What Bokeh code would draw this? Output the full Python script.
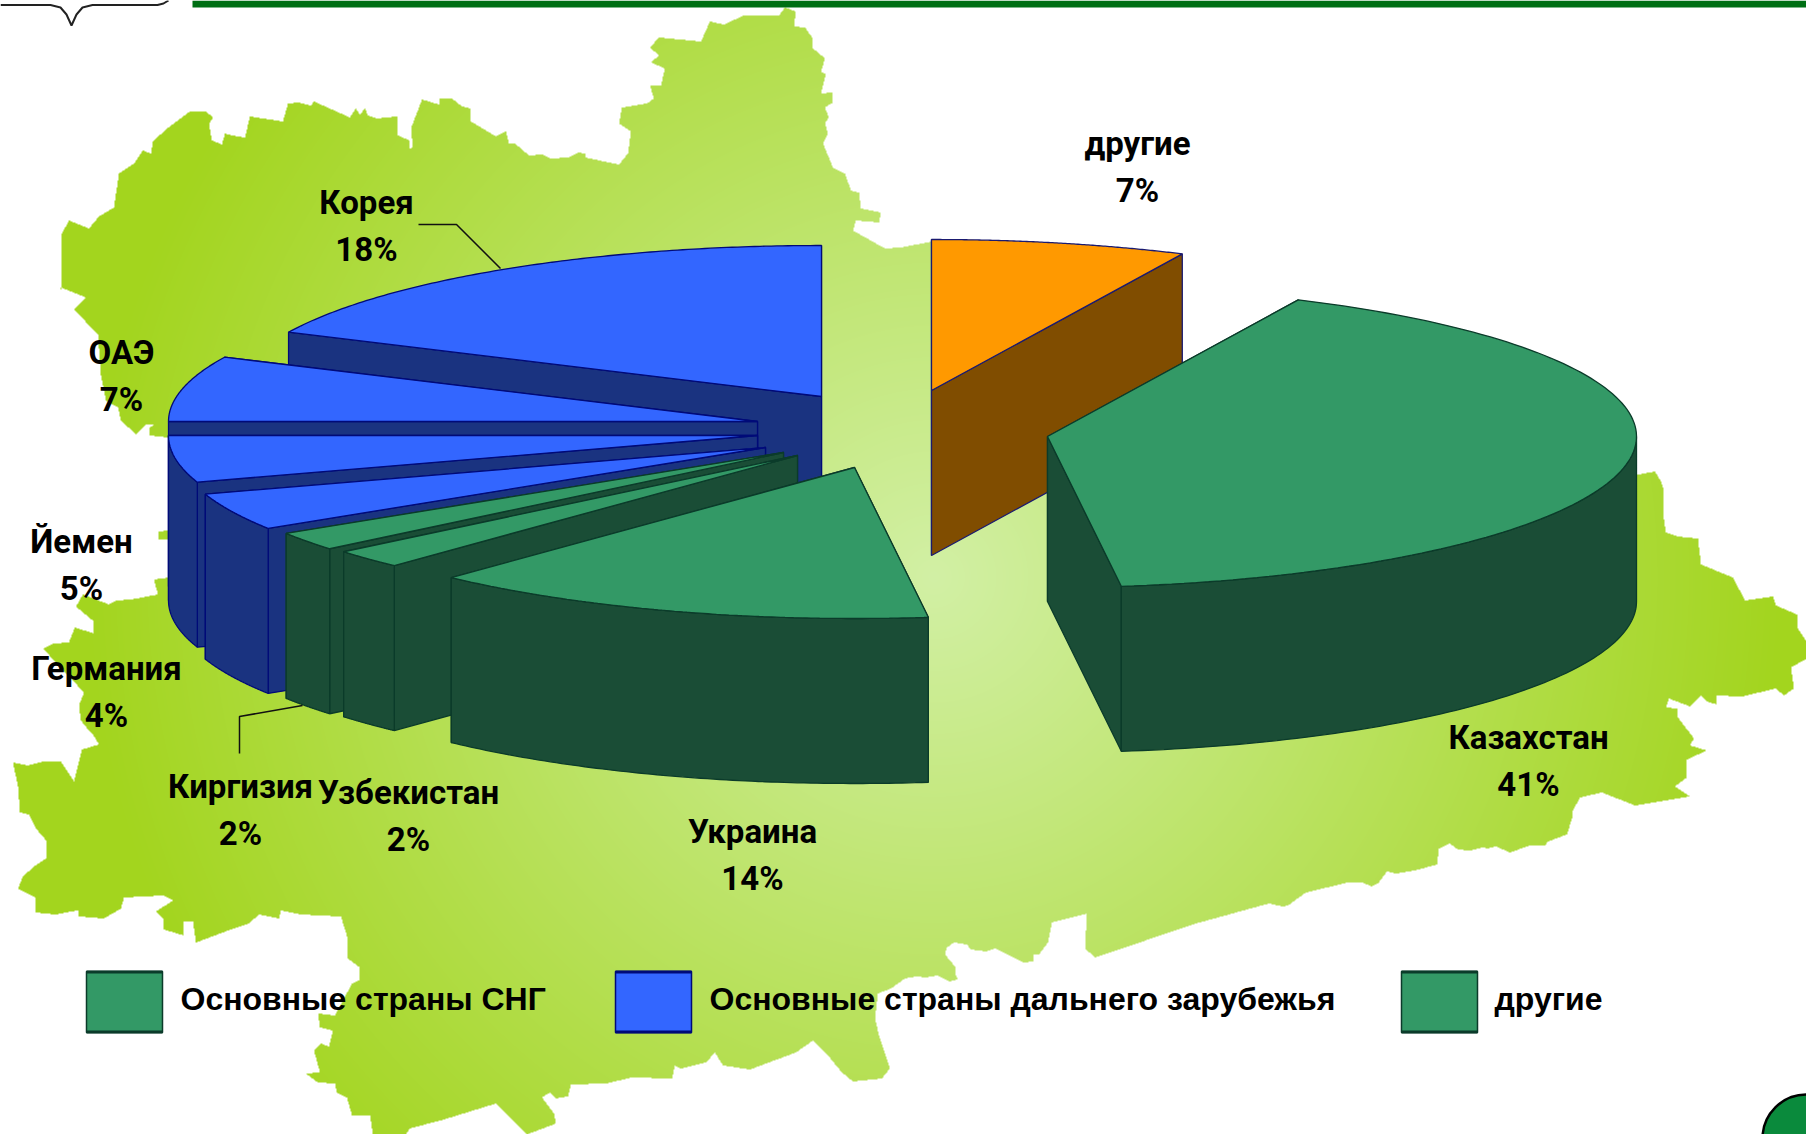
import numpy as np
from bokeh.plotting import figure
from bokeh.models import Range1d
from bokeh.core.properties import value
from bokeh.embed import file_html
from bokeh.resources import INLINE

# ---------- data ----------
countries = ["другие", "Казахстан", "Украина", "Узбекистан", "Киргизия",
             "Германия", "Йемен", "ОАЭ", "Корея"]
shares = [7, 41, 14, 2, 2, 4, 5, 7, 18]
groups = ["other", "cis", "cis", "cis", "cis", "far", "far", "far", "far"]
legend_labels = ["Основные страны СНГ", "Основные страны дальнего зарубежья", "другие"]
legend_groups = ["cis", "far", "cis"]

# ---------- layout (reference pixels) ----------
W, H = 1806, 1134
RX, RY, DEPTH = 589, 151, 165
apex_x = [931, 1047, 854, 797, 783, 765, 757, 757, 821]
apex_y = [390, 436, 467, 455, 452, 447, 435, 421, 396]
label_x = [1137, 1528, 752, 408, 240, 106, 81, 121, 366]
label_y = [143, 737, 831, 792, 786, 668, 541, 352, 202]
line_gap = 47
draw_order = [0, 8, 7, 6, 5, 4, 3, 2, 1]
top_colors = {"cis": "#339966", "far": "#3366FF", "other": "#FF9900"}
side_colors = {"cis": "#1A4D36", "far": "#1A3380", "other": "#804D00"}
edge_colors = {"cis": "#0B3B2A", "far": "#000A78", "other": "#1A1A70"}
legend_x = [86, 615, 1401]
legend_text_x = [180, 709, 1494]

map_outline = [
    (60,289),(61,233),(68,220),(88,228),(98,216),(113,207),(118,173),(133,163),(142,150),(150,153),
    (152,141),(166,128),(189,111),(205,111),(212,117),(208,124),(211,140),(221,144),(224,133),(232,135),
    (244,137),(249,116),(282,121),(287,103),(298,102),(310,105),(313,101),(349,117),(355,108),(359,114),
    (364,108),(367,115),(376,118),(396,116),(397,135),(409,140),(409,148),(412,147),(410,128),(421,99),
    (438,104),(439,98),(451,98),(461,106),(470,108),(470,121),(495,136),(505,131),(508,143),(514,143),
    (528,155),(542,154),(550,158),(568,157),(577,152),(585,153),(584,157),(618,164),(627,153),(630,131),
    (618,123),(621,107),(646,103),(653,98),(649,85),(660,85),(664,68),(650,62),(658,55),(649,47),
    (658,37),(700,41),(709,21),(723,24),(743,15),(778,15),(784,7),(795,11),(793,26),(804,27),
    (812,38),(811,47),(824,58),(820,72),(825,73),(820,93),(831,92),(832,102),(824,107),(828,117),
    (824,123),(827,133),(822,143),(832,167),(844,173),(850,190),(858,192),(860,208),(880,212),(878,222),
    (855,220),(852,230),(884,248),(900,247),(931,241),(940,300),(1100,400),(1300,500),(1630,476),
    (1638,474),(1654,471),(1660,481),(1663,490),(1662,513),(1665,532),(1677,536),(1697,538),(1700,564),
    (1732,577),(1744,600),(1772,596),(1775,605),(1796,614),(1797,628),(1806,642),(1806,658),(1790,667),
    (1793,688),(1783,695),(1775,688),(1741,696),(1715,695),(1716,704),(1706,701),(1700,695),(1689,706),
    (1668,698),(1665,707),(1677,708),(1677,717),(1693,738),(1689,745),(1706,750),(1686,759),(1686,777),
    (1674,786),(1689,796),(1634,805),(1601,792),(1579,797),(1572,810),(1571,818),(1566,834),(1547,841),
    (1544,845),(1529,845),(1509,852),(1495,846),(1487,848),(1482,847),(1469,850),(1457,849),(1449,843),
    (1438,848),(1436,864),(1414,870),(1395,873),(1386,871),(1377,883),(1371,886),(1361,882),(1347,882),
    (1305,892),(1287,905),(1282,906),(1268,903),(1195,923),(1094,957),(1092,955),(1084,948),(1086,913),
    (1051,922),(1047,942),(1038,954),(1033,954),(1032,961),(1023,962),(994,948),(985,951),(970,949),
    (966,944),(953,942),(946,947),(944,954),(954,966),(955,975),(957,979),(948,981),(937,975),(925,977),
    (916,976),(904,978),(890,988),(877,993),(875,1010),(875,1022),(878,1035),(884,1053),(889,1068),
    (881,1078),(852,1081),(841,1072),(827,1055),(812,1040),(795,1052),(749,1069),(722,1065),(714,1052),
    (705,1062),(680,1068),(674,1065),(671,1078),(631,1077),(605,1083),(570,1084),(567,1096),(555,1098),
    (549,1092),(541,1097),(553,1113),(555,1123),(526,1134),(495,1103),(443,1119),(409,1128),(405,1134),
    (372,1134),(369,1115),(351,1115),(346,1097),(336,1092),(334,1083),(317,1082),(305,1073),(319,1072),
    (313,1050),(320,1043),(328,1046),(332,1030),(319,1027),(317,1013),(334,1015),(351,983),(358,980),
    (359,967),(347,958),(347,939),(340,916),(300,914),(280,910),(278,918),(258,914),(248,923),(230,929),
    (195,942),(192,921),(183,921),(183,935),(163,929),(162,918),(155,911),(172,900),(163,895),(123,897),
    (120,908),(103,918),(78,916),(77,910),(65,912),(55,914),(34,912),(35,897),(17,888),(22,876),(33,866),
    (45,858),(46,841),(35,828),(28,814),(19,812),(17,786),(12,762),(27,765),(43,761),(60,761),(73,781),
    (81,749),(98,744),(92,734),(88,730),(80,720),(78,705),(83,692),(42,648),(53,643),(68,642),(74,627),
    (93,633),(93,621),(75,606),(82,594),(108,604),(115,600),(130,599),(157,594),(153,579),(168,577),
    (185,560),(185,545),(167,539),(158,539),(158,531),(167,530),(185,520),(185,445),(167,437),(149,435),
    (148,428),(153,424),(145,424),(135,434),(120,420),(117,407),(105,400),(100,375),(97,334),(73,309),
    (85,297),(60,287),
]

def Y(v):
    return H - np.asarray(v, dtype=float)

p = figure(width=W, height=H, output_backend="svg", toolbar_location=None,
           x_range=Range1d(0, W), y_range=Range1d(0, H), min_border=0,
           x_axis_location=None, y_axis_location=None, outline_line_color=None,
           background_fill_color="white", border_fill_color="white")
p.grid.visible = False

# ---------- map background as masked gradient image ----------
poly = np.array(map_outline, dtype=float)
parity = np.zeros((H, W + 1), dtype=np.uint8)
for (x0, y0), (x1, y1) in zip(poly, np.roll(poly, -1, axis=0)):
    if y0 == y1:
        continue
    lo, hi = min(y0, y1), max(y0, y1)
    rows = np.arange(int(np.ceil(lo - 0.5)), int(np.ceil(hi - 0.5)))
    rows = rows[(rows >= 0) & (rows < H)]
    xs = x0 + (rows + 0.5 - y0) * (x1 - x0) / (y1 - y0)
    idx = np.clip(np.ceil(xs).astype(int), 0, W)
    np.bitwise_xor.at(parity, (rows, idx), 1)
mask = np.bitwise_xor.accumulate(parity, axis=1)[:, :W].astype(bool)
yy, xx = np.mgrid[0:H, 0:W]
t = np.clip(np.hypot(xx - 933, yy - 576) / 850.0, 0, 1)
c0, c1 = np.array([210, 240, 165.0]), np.array([163, 213, 30.0])
rgb = [(c0[i] + (c1[i] - c0[i]) * t).astype(np.uint32) for i in range(3)]
img = rgb[0] | (rgb[1] << 8) | (rgb[2] << 16) | (mask.astype(np.uint32) * (255 << 24))
p.image_rgba(image=[img[::-1]], x=0, y=0, dw=W, dh=H)

# ---------- 3D pie computed from the shares ----------
def rim(ax, ay, deg):
    a = np.radians(deg)
    return ax + RX * np.sin(a), ay - RY * np.cos(a)

def patch(xs, ys, fill, edge):
    p.patch(list(xs), list(Y(ys)), fill_color=fill, line_color=edge, line_width=1.3)

ends = np.cumsum(shares) * 3.6
starts = ends - np.array(shares) * 3.6
for i in draw_order:
    ax, ay, a0, a1, g = apex_x[i], apex_y[i], starts[i], ends[i], groups[i]
    top, side, edge = top_colors[g], side_colors[g], edge_colors[g]
    radial = (a1, a0) if (a0 + a1) / 2 > 180 else (a0, a1)
    for deg in radial:
        rx, ry = rim(ax, ay, deg)
        patch([ax, rx, rx, ax], [ay, ry, ry + DEPTH, ay + DEPTH], side, edge)
    w0, w1 = max(a0, 90.0), min(a1, 270.0)
    if w1 > w0:
        arc = np.linspace(w0, w1, 80)
        rx, ry = rim(ax, ay, arc)
        patch(np.r_[rx, rx[::-1]], np.r_[ry, ry[::-1] + DEPTH], side, edge)
    arc = np.linspace(a0, a1, 120)
    rx, ry = rim(ax, ay, arc)
    patch(np.r_[ax, rx], np.r_[ay, ry], top, edge)

# ---------- leader lines ----------
p.line([418, 456, 500], Y([224, 224, 268]), line_color="#111111", line_width=1.5)
p.line([239, 239, 302], Y([753, 716, 705]), line_color="#111111", line_width=1.5)

# ---------- labels ----------
lab_font = value("Roboto")
p.text(x=label_x, y=list(Y(label_y)), text=countries, text_font=lab_font, text_font_size="33px",
       text_font_style="bold", text_align="center", text_baseline="middle", text_color="black")
p.text(x=label_x, y=list(Y(label_y) - line_gap), text=[f"{v}%" for v in shares], text_font=lab_font,
       text_font_size="33px", text_font_style="bold", text_align="center", text_baseline="middle",
       text_color="black")

# ---------- legend ----------
for x, g, tx, lab in zip(legend_x, legend_groups, legend_text_x, legend_labels):
    p.quad(left=x, right=x + 76, top=Y(971), bottom=Y(1032), fill_color=top_colors[g],
           line_color=edge_colors[g], line_width=1.5)
    p.quad(left=x, right=x + 76, top=Y(970), bottom=Y(973), fill_color=edge_colors[g], line_color=None)
    p.quad(left=x, right=x + 76, top=Y(1030), bottom=Y(1033), fill_color=edge_colors[g], line_color=None)
    p.text(x=[tx], y=list(Y([998])), text=[lab], text_font=value("Liberation Sans"),
           text_font_size="32px", text_font_style="bold", text_align="left",
           text_baseline="middle", text_color="black")

# ---------- page furniture ----------
p.quad(left=192, right=W, top=Y(0), bottom=Y(7), fill_color="#006F14", line_color=None)
cx = np.r_[0, 50, 60, 66, 71, 76, 82, 92, 157, 163, 168]
cy = np.r_[4.5, 4.5, 7, 14, 25, 14, 7, 4.5, 4.5, 3, 0]
p.line(cx, Y(cy), line_color="#222222", line_width=2)
p.circle(x=[1806], y=list(Y([1138])), radius=44, fill_color="#0A8A3C", line_color="black", line_width=2.5)

open("out.html", "w").write(file_html(p, INLINE))
